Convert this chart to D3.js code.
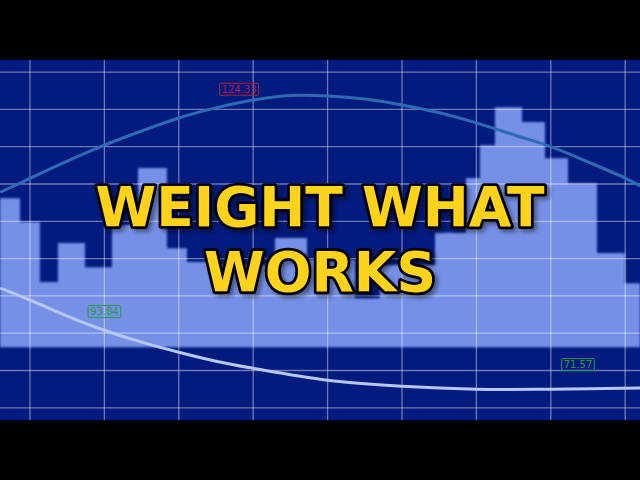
<!DOCTYPE html>
<html>
<head>
<meta charset="utf-8">
<script src="https://cdn.jsdelivr.net/npm/d3@7"></script>
<style>
  html, body { margin: 0; padding: 0; background: #000; }
  svg { display: block; }
</style>
</head>
<body>
<script>
// ---------- data ----------
const binEdges = [-0.403, -0.134, 0.134, 0.376, 0.739, 1.102, 1.452, 1.841, 2.110, 2.419, 2.823, 3.293, 3.723, 4.368, 4.704, 5.444, 5.860, 6.048, 6.250, 6.613, 6.922, 7.231, 7.621, 7.997, 8.199];
const binValues = [56.2, 49.8, 33.7, 44.2, 37.7, 49.0, 64.3, 42.8, 39.1, 38.3, 38.3, 45.5, 39.6, 29.4, 38.3, 46.9, 61.6, 70.4, 80.6, 76.6, 66.9, 60.2, 41.5, 33.4];
const binBase = 16.2;

const upperX = [-0.4, 0, 0.5, 1, 1.5, 2, 2.5, 3, 3.5, 4, 4.5, 5, 5.5, 6, 6.5, 7, 7.5, 8, 8.2];
const upperY = [57.8, 61.5, 66.1, 70.4, 74.2, 77.7, 80.4, 82.5, 83.7, 83.6, 82.8, 81.2, 79.1, 76.4, 73.2, 70.0, 65.9, 61.6, 59.5];

const lowerX = [-0.4, 0, 0.5, 1, 1.5, 2, 2.5, 3, 4, 5, 6, 7, 8.2];
const lowerY = [32.1, 28.9, 24.6, 20.8, 17.6, 14.9, 12.5, 10.6, 7.4, 5.8, 5.0, 5.0, 5.3];

const labelTexts = ["124.33", "93.84", "71.57"];
const labelX = [2.81, 1.0, 7.366];
const labelY = [85.4, 25.8, 11.6];
const labelKind = ["max", "start", "min"];

const xGrid = [0, 1, 2, 3, 4, 5, 6, 7, 8];
const yGrid = [0, 10, 20, 30, 40, 50, 60, 70, 80, 90];

const titleLines = ["WEIGHT WHAT", "WORKS"];

// ---------- layout ----------
const W = 640, H = 480;
const plotTop = 60, plotBottom = 420;

const x = d3.scaleLinear().domain([-0.403, 8.199]).range([0, W]);
const y = d3.scaleLinear().domain([-3.27, 93.24]).range([plotBottom, plotTop]);

const svg = d3.select("body").append("svg").attr("width", W).attr("height", H);

const defs = svg.append("defs");
const f = defs.append("filter").attr("id", "shadow").attr("x", "-10%").attr("y", "-20%").attr("width", "130%").attr("height", "150%");
f.append("feDropShadow").attr("dx", 3).attr("dy", 3).attr("stdDeviation", 2).attr("flood-color", "#000").attr("flood-opacity", 0.4);
const bl = defs.append("filter").attr("id", "soft");
bl.append("feGaussianBlur").attr("stdDeviation", 0.8);

svg.append("rect").attr("width", W).attr("height", H).attr("fill", "#000");
svg.append("rect").attr("x", 0).attr("y", plotTop).attr("width", W).attr("height", plotBottom - plotTop).attr("fill", "#031a7e");

const clip = defs.append("clipPath").attr("id", "plotclip");
clip.append("rect").attr("x", 0).attr("y", plotTop).attr("width", W).attr("height", plotBottom - plotTop);

const g = svg.append("g").attr("clip-path", "url(#plotclip)");

// histogram area
const binPts = binEdges.map((e, i) => ({ x: e, v: binValues[Math.min(i, binValues.length - 1)] }));
const area = d3.area()
  .x(d => x(d.x))
  .y0(y(binBase))
  .y1(d => y(d.v))
  .curve(d3.curveStepAfter);
g.append("path").datum(binPts).attr("d", area).attr("fill", "#7590e6").attr("filter", "url(#soft)");

// grid
g.append("g").selectAll("line").data(xGrid).join("line")
  .attr("x1", d => x(d)).attr("x2", d => x(d))
  .attr("y1", plotTop).attr("y2", plotBottom)
  .attr("stroke", "#ffffff").attr("stroke-opacity", 0.42).attr("stroke-width", 1.3);
g.append("g").selectAll("line").data(yGrid).join("line")
  .attr("x1", 0).attr("x2", W)
  .attr("y1", d => y(d)).attr("y2", d => y(d))
  .attr("stroke", "#ffffff").attr("stroke-opacity", 0.42).attr("stroke-width", 1.3);

// curves
const line = d3.line().x(d => x(d[0])).y(d => y(d[1])).curve(d3.curveCatmullRom.alpha(0.5));
g.append("path").datum(upperX.map((v, i) => [v, upperY[i]]))
  .attr("d", line).attr("fill", "none").attr("stroke", "#2d6cb5").attr("stroke-width", 3);
g.append("path").datum(lowerX.map((v, i) => [v, lowerY[i]]))
  .attr("d", line).attr("fill", "none").attr("stroke", "#b6c8f0").attr("stroke-width", 3);

// value labels
const labColor = { max: "#b01c3c", start: "#2a9a48", min: "#2a9a48" };
labelTexts.forEach((t, i) => {
  const lg = g.append("g").attr("transform", `translate(${x(labelX[i])},${y(labelY[i])})`);
  const txt = lg.append("text").attr("text-anchor", "middle").attr("dy", "0.35em")
    .attr("font-family", "DejaVu Sans").attr("font-size", 10)
    .attr("fill", labColor[labelKind[i]]).text(t);
  const bb = txt.node().getBBox();
  lg.insert("rect", "text")
    .attr("x", bb.x - 2).attr("y", -6).attr("width", bb.width + 4).attr("height", 12)
    .attr("fill", "none").attr("stroke", labColor[labelKind[i]]).attr("stroke-width", 1).attr("rx", 1);
});

// title
const tg = svg.append("g").attr("filter", "url(#shadow)");
titleLines.forEach((t, i) => {
  tg.append("text")
    .attr("x", W / 2).attr("y", 226 + i * 65)
    .attr("text-anchor", "middle")
    .attr("font-family", "DejaVu Sans").attr("font-weight", "bold").attr("font-size", 55)
    .attr("fill", "#ffd21a").attr("stroke", "#000").attr("stroke-width", 5.5)
    .attr("stroke-linejoin", "round").attr("paint-order", "stroke")
    .text(t);
});
</script>
</body>
</html>
